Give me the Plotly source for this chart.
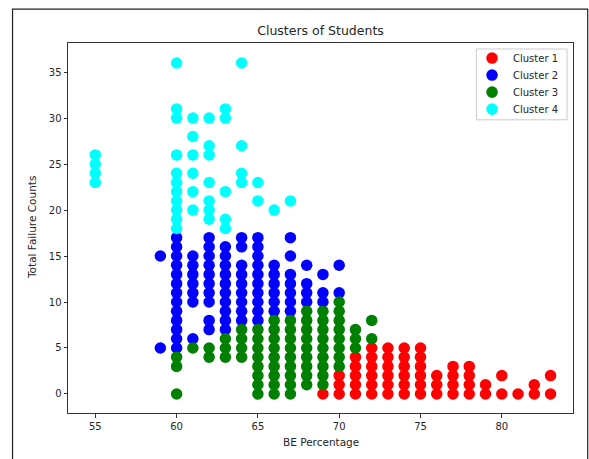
import plotly.graph_objects as go

# ---------------- data ----------------
# Cluster 1 (red)
c1_x = [69,
        70, 70, 70,
        71, 71, 71, 71, 71,
        72, 72, 72, 72, 72, 72,
        73, 73, 73, 73, 73, 73,
        74, 74, 74, 74, 74, 74,
        75, 75, 75, 75, 75, 75,
        76, 76, 76,
        77, 77, 77, 77,
        78, 78, 78, 78,
        79, 79,
        80, 80,
        81,
        82, 82,
        83, 83]
c1_y = [0,
        0, 1, 2,
        0, 1, 2, 3, 4,
        0, 1, 2, 3, 4, 5,
        0, 1, 2, 3, 4, 5,
        0, 1, 2, 3, 4, 5,
        0, 1, 2, 3, 4, 5,
        0, 1, 2,
        0, 1, 2, 3,
        0, 1, 2, 3,
        0, 1,
        0, 2,
        0,
        0, 1,
        0, 2]

# Cluster 2 (blue)
c2_x = [59, 59,
        60, 60, 60, 60, 60, 60, 60, 60, 60, 60, 60, 60, 60,
        61, 61, 61, 61, 61, 61, 61,
        62, 62, 62, 62, 62, 62, 62, 62, 62, 62,
        63, 63, 63, 63, 63, 63, 63, 63, 63, 63,
        64, 64, 64, 64, 64, 64, 64, 64, 64,
        65, 65, 65, 65, 65, 65, 65, 65, 65, 65,
        66, 66, 66, 66, 66, 66,
        67, 67, 67, 67, 67, 67, 67,
        68, 68, 68, 68,
        69, 69, 69,
        70, 70]
c2_y = [5, 15,
        5, 6, 7, 8, 9, 10, 11, 12, 13, 14, 15, 16, 17,
        6, 10, 11, 12, 13, 14, 15,
        7, 8, 10, 11, 12, 13, 14, 15, 16, 17,
        7, 8, 9, 10, 11, 12, 13, 14, 15, 16,
        8, 9, 10, 11, 12, 13, 14, 16, 17,
        8, 9, 10, 11, 12, 13, 14, 15, 16, 17,
        9, 10, 11, 12, 13, 14,
        9, 10, 11, 12, 13, 15, 17,
        10, 11, 12, 14,
        10, 11, 13,
        11, 14]

# Cluster 3 (green)
c3_x = [60, 60, 60,
        61,
        62, 62,
        63, 63, 63,
        64, 64, 64, 64,
        65, 65, 65, 65, 65, 65, 65, 65,
        66, 66, 66, 66, 66, 66, 66, 66, 66,
        67, 67, 67, 67, 67, 67, 67, 67, 67,
        68, 68, 68, 68, 68, 68, 68, 68, 68,
        69, 69, 69, 69, 69, 69, 69, 69, 69,
        70, 70, 70, 70, 70, 70, 70, 70,
        71, 71, 71,
        72, 72]
c3_y = [0, 3, 4,
        5,
        4, 5,
        4, 5, 6,
        4, 5, 6, 7,
        0, 1, 2, 3, 4, 5, 6, 7,
        0, 1, 2, 3, 4, 5, 6, 7, 8,
        0, 1, 2, 3, 4, 5, 6, 7, 8,
        1, 2, 3, 4, 5, 6, 7, 8, 9,
        1, 2, 3, 4, 5, 6, 7, 8, 9,
        3, 4, 5, 6, 7, 8, 9, 10,
        5, 6, 7,
        6, 8]

# Cluster 4 (cyan)
c4_x = [55, 55, 55, 55,
        60, 60, 60, 60, 60, 60, 60, 60, 60, 60, 60,
        61, 61, 61, 61, 61, 61,
        62, 62, 62, 62, 62, 62, 62,
        63, 63, 63, 63, 63,
        64, 64, 64, 64,
        65, 65,
        66,
        67]
c4_y = [23, 24, 25, 26,
        18, 19, 20, 21, 22, 23, 24, 26, 30, 31, 36,
        20, 22, 24, 26, 28, 30,
        19, 20, 21, 23, 26, 27, 30,
        18, 19, 22, 30, 31,
        23, 24, 27, 36,
        21, 23,
        20,
        21]

cluster_names = ["Cluster 1", "Cluster 2", "Cluster 3", "Cluster 4"]
cluster_colors = ["red", "blue", "green", "cyan"]
x_ticks = [55, 60, 65, 70, 75, 80]
y_ticks = [0, 5, 10, 15, 20, 25, 30, 35]

title_text = "Clusters of Students"
x_label = "BE Percentage"
y_label = "Total Failure Counts"

# ---------------- layout geometry (pixels) ----------------
W, H = 589, 459
L, R, T, B = 68, 573.3, 43.3, 412.7
PW, PH = R - L, B - T


def px(p):
    return (p - L) / PW


def py(p):
    return (B - p) / PH


FONT = "DejaVu Sans"
TXT = "#262626"

fig = go.Figure()
for xs, ys, name, col in zip([c1_x, c2_x, c3_x, c4_x],
                             [c1_y, c2_y, c3_y, c4_y],
                             cluster_names, cluster_colors):
    fig.add_trace(go.Scatter(
        x=xs, y=ys, mode="markers", name=name, showlegend=False,
        marker=dict(color=col, size=11.5, line=dict(width=0)),
    ))

axis_common = dict(
    showgrid=False, zeroline=False,
    showline=True, mirror=True, linecolor="#333333", linewidth=1,
    ticks="outside", ticklen=3.5, tickwidth=1, tickcolor="#333333",
    tickfont=dict(family=FONT, size=10, color=TXT),
)

# legend drawn in matplotlib style (frame, marker circles, labels)
shapes = [
    dict(type="rect", xref="paper", yref="paper",
         x0=px(476.7), x1=px(567.3), y0=py(120.0), y1=py(49.3),
         fillcolor="rgba(255,255,255,0.8)",
         line=dict(color="#cccccc", width=1)),
]
annotations = []
row_y = [58.3, 75.3, 92.3, 109.3]
r = 5.8
for name, col, ry in zip(cluster_names, cluster_colors, row_y):
    shapes.append(dict(type="circle", xref="paper", yref="paper",
                       x0=px(492.3 - r), x1=px(492.3 + r),
                       y0=py(ry + r), y1=py(ry - r),
                       fillcolor=col, line=dict(width=0)))
    annotations.append(dict(text=name, xref="paper", yref="paper",
                            x=px(511.5), y=py(ry), xanchor="left",
                            yanchor="middle", showarrow=False,
                            font=dict(family=FONT, size=10, color=TXT)))

annotations += [
    dict(text=x_label, xref="paper", yref="paper", x=0.5,
         y=py(442), xanchor="center", yanchor="middle",
         showarrow=False, font=dict(family=FONT, size=10.5, color=TXT)),
    dict(text=y_label, xref="paper", yref="paper",
         x=px(32), y=0.5, textangle=-90,
         xanchor="center", yanchor="middle",
         showarrow=False, font=dict(family=FONT, size=10.5, color=TXT)),
]

# outer notebook-output frame (left, top, right edges)
shapes.append(dict(type="path", xref="paper", yref="paper",
                   path="M %f %f L %f %f L %f %f L %f %f" % (
                       px(12.5), py(470), px(12.5), py(9.5),
                       px(588), py(9.5), px(588), py(470)),
                   line=dict(color="#222222", width=1.2)))

fig.update_layout(
    width=W, height=H, autosize=False,
    margin=dict(l=L, r=W - R, t=T, b=H - B, pad=0),
    paper_bgcolor="white", plot_bgcolor="white",
    font=dict(family=FONT, size=10, color=TXT),
    title=dict(text=title_text, x=0.5, xref="paper", xanchor="center",
               y=1 - 31 / H, yref="container", yanchor="middle",
               font=dict(family=FONT, size=12.5, color=TXT)),
    xaxis=dict(range=[53.32, 84.38], tickvals=x_ticks, **axis_common),
    yaxis=dict(range=[-2.07, 38.17], tickvals=y_ticks, **axis_common),
    showlegend=False,
    annotations=annotations,
    shapes=shapes,
)

fig.write_html("out.html")
